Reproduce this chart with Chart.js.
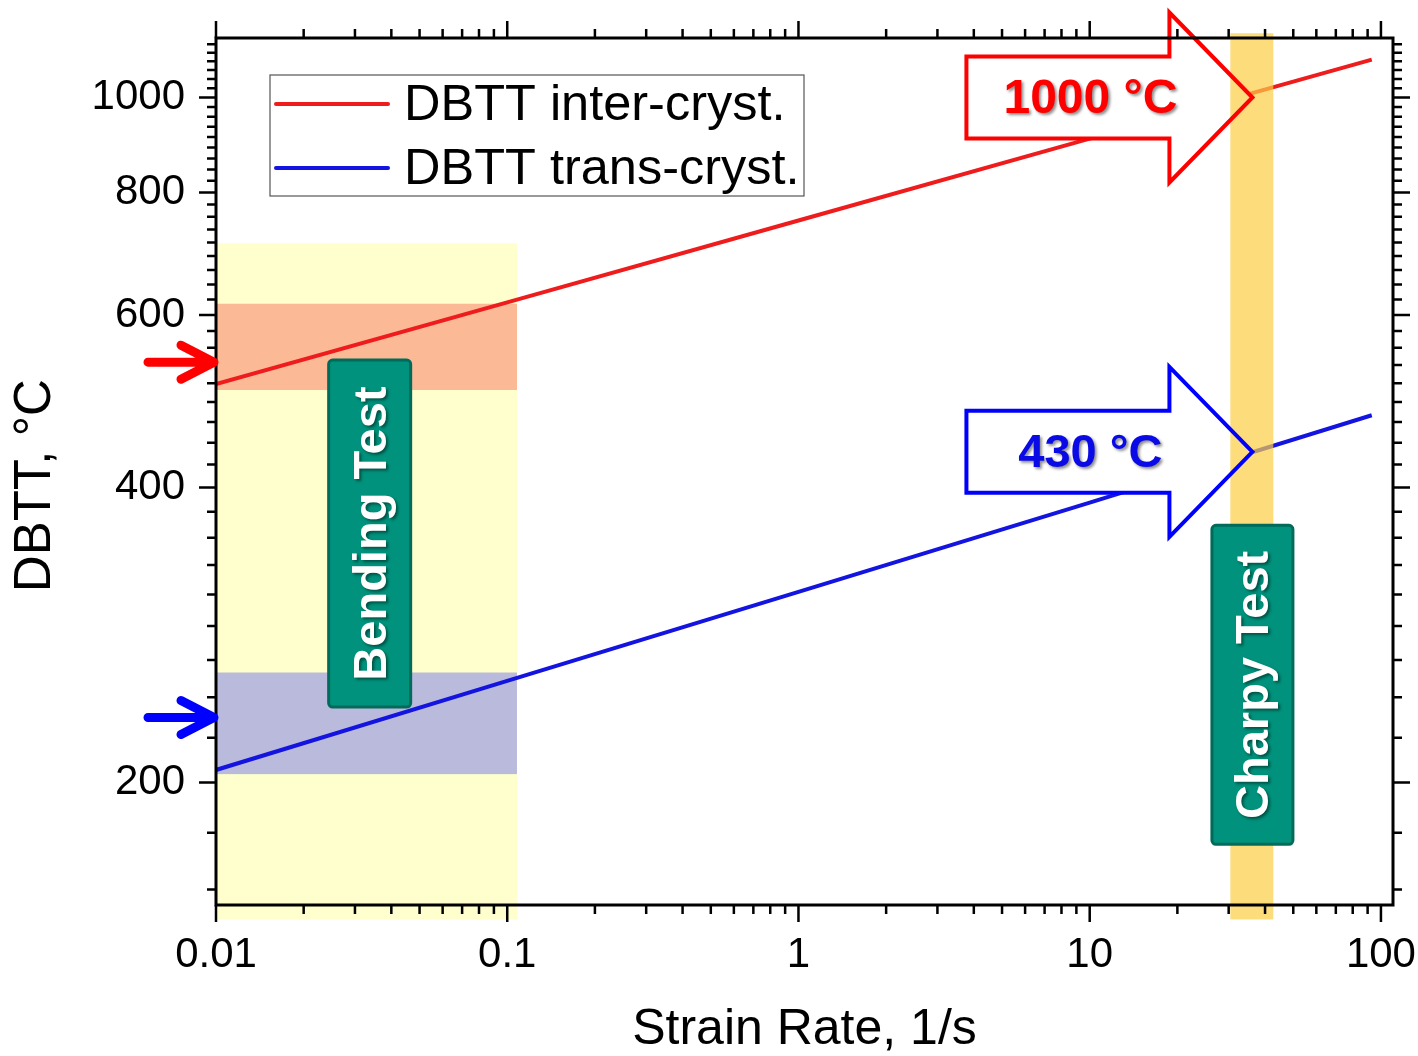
<!DOCTYPE html>
<html lang="en">
<head>
<meta charset="UTF-8" />
<title>DBTT vs Strain Rate</title>
<script src="https://cdn.jsdelivr.net/npm/chart.js"></script>
<style>
  body { margin: 0; background: #fff; }
  .wrap { width: 1418px; height: 1056px; position: relative; }
</style>
</head>
<body>
<div class="wrap"><canvas id="dbttChart"></canvas></div>
<script>
  // series (log-log straight lines)
  const strainRate = [0.01, 0.1, 1, 10, 93];
  const dbttInter = [510, 618, 749, 908, 1093];
  const dbttTrans = [206, 254, 313, 386, 474];
  const seriesLabels = ['DBTT inter-cryst.', 'DBTT trans-cryst.'];
  const seriesColors = ['#ee1c1c', '#1414e0'];

  const xTicks = [0.01, 0.1, 1, 10, 100];
  const yTicks = [200, 400, 600, 800, 1000];

  // test windows
  const bendingRate = [0.01, 0.108];
  const bendingTemp = [145, 710];
  const bendingInterBand = [503, 616];
  const bendingTransBand = [204, 259];
  const bendingMarks = [537, 233];
  const charpyRate = [30.4, 42.7];
  const charpyTemp = [145, 1163];
  const charpyPoint = 36.2;
  const charpyTemps = [1000, 435];
  const charpyLabels = ['1000 °C', '430 °C'];

  const FONT = '"Liberation Sans", Arial, sans-serif';

  function fillBand(ctx, x0, x1, yTop, yBot, color) {
    ctx.fillStyle = color;
    ctx.fillRect(x0, yTop, x1 - x0, yBot - yTop);
  }

  function arrowPath(ctx, tipX, tipY) {
    const headLen = 83, headHalf = 85, bodyHalf = 41, totalLen = 286;
    ctx.beginPath();
    ctx.moveTo(tipX, tipY);
    ctx.lineTo(tipX - headLen, tipY - headHalf);
    ctx.lineTo(tipX - headLen, tipY - bodyHalf);
    ctx.lineTo(tipX - totalLen, tipY - bodyHalf);
    ctx.lineTo(tipX - totalLen, tipY + bodyHalf);
    ctx.lineTo(tipX - headLen, tipY + bodyHalf);
    ctx.lineTo(tipX - headLen, tipY + headHalf);
    ctx.closePath();
  }

  function shadowOn(ctx) {
    ctx.shadowColor = 'rgba(0,0,0,0.45)';
    ctx.shadowOffsetX = 2;
    ctx.shadowOffsetY = 2;
    ctx.shadowBlur = 3;
  }

  function tealBox(ctx, cx, cy, w, h, text) {
    ctx.save();
    ctx.fillStyle = '#00927c';
    ctx.strokeStyle = '#006b5a';
    ctx.lineWidth = 3;
    ctx.beginPath();
    if (ctx.roundRect) ctx.roundRect(cx - w / 2, cy - h / 2, w, h, 4);
    else ctx.rect(cx - w / 2, cy - h / 2, w, h);
    ctx.fill();
    ctx.stroke();
    ctx.translate(cx, cy);
    ctx.rotate(-Math.PI / 2);
    ctx.font = 'bold 47px ' + FONT;
    ctx.fillStyle = '#fff';
    ctx.textAlign = 'center';
    ctx.textBaseline = 'middle';
    shadowOn(ctx);
    ctx.fillText(text, 0, 3);
    ctx.restore();
  }

  function drawFrame(chart) {
    const { ctx, chartArea: a, scales: { x, y } } = chart;
    ctx.save();
    ctx.strokeStyle = '#000';
    ctx.lineWidth = 3;
    ctx.strokeRect(a.left, a.top, a.right - a.left, a.bottom - a.top);
    ctx.lineWidth = 2.5;
    ctx.beginPath();
    const majorLen = 17, minorLen = 9;
    // x ticks, bottom and top, pointing out
    xTicks.forEach(m => {
      for (let k = 1; k < 10; k++) {
        const v = m * k;
        if (v < x.min - 1e-9 || v > x.max) continue;
        const px = x.getPixelForValue(v);
        const len = k === 1 ? majorLen : minorLen;
        ctx.moveTo(px, a.bottom); ctx.lineTo(px, a.bottom + len);
        ctx.moveTo(px, a.top); ctx.lineTo(px, a.top - len);
      }
    });
    // y ticks, left and right, 8 minors between majors
    const step = (yTicks[1] - yTicks[0]) / 9;
    const yMarks = [];
    yTicks.forEach(m => yMarks.push([m, majorLen]));
    for (let v = yTicks[0] + step; v <= y.max + 1e-6; v += step) {
      if (yTicks.some(m => Math.abs(m - v) < 1e-6)) continue;
      yMarks.push([v, minorLen]);
    }
    for (let v = yTicks[0] - step; v >= y.min; v -= step) yMarks.push([v, minorLen]);
    yMarks.forEach(([v, len]) => {
      const py = y.getPixelForValue(v);
      ctx.moveTo(a.left, py); ctx.lineTo(a.left - len, py);
      ctx.moveTo(a.right, py); ctx.lineTo(a.right + len, py);
    });
    ctx.stroke();
    ctx.restore();
  }

  function drawLegend(chart) {
    const { ctx, chartArea: a } = chart;
    const bx = a.left + 54, by = a.top + 37, bw = 534, bh = 121;
    ctx.save();
    ctx.fillStyle = '#fff';
    ctx.fillRect(bx, by, bw, bh);
    ctx.strokeStyle = '#555';
    ctx.lineWidth = 1.2;
    ctx.strokeRect(bx, by, bw, bh);
    ctx.font = '50.5px ' + FONT;
    ctx.textBaseline = 'middle';
    ctx.fillStyle = '#000';
    chart.data.datasets.forEach((ds, i) => {
      const ry = by + 29 + i * 64;
      ctx.strokeStyle = ds.borderColor;
      ctx.lineWidth = 4;
      ctx.lineCap = 'round';
      ctx.beginPath();
      ctx.moveTo(bx + 6, ry);
      ctx.lineTo(bx + 118, ry);
      ctx.stroke();
      ctx.fillText(ds.label, bx + 134, ry + 2);
    });
    ctx.restore();
  }

  const decorPlugin = {
    id: 'decor',
    beforeDatasetsDraw(chart) {
      const { ctx, scales: { x, y } } = chart;
      const xl = x.getPixelForValue(bendingRate[0]);
      const xr = x.getPixelForValue(bendingRate[1]);
      ctx.save();
      fillBand(ctx, xl, xr, y.getPixelForValue(bendingTemp[1]), y.getPixelForValue(bendingTemp[0]), '#ffffcd');
      fillBand(ctx, xl, xr, y.getPixelForValue(bendingInterBand[1]), y.getPixelForValue(bendingInterBand[0]), '#fbb996');
      fillBand(ctx, xl, xr, y.getPixelForValue(bendingTransBand[1]), y.getPixelForValue(bendingTransBand[0]), '#babadc');
      ctx.restore();
    },
    afterDatasetsDraw(chart) {
      const { ctx, chartArea: a, scales: { x, y } } = chart;
      const tipX = x.getPixelForValue(charpyPoint);
      const tips = charpyTemps.map(t => y.getPixelForValue(t));
      const arrowColors = ['#ff0000', '#0000ff'];
      const textColors = ['#ff0000', '#0a0ae6'];
      ctx.save();
      tips.forEach(ty => { arrowPath(ctx, tipX, ty); ctx.fillStyle = '#fff'; ctx.fill(); });
      fillBand(ctx, x.getPixelForValue(charpyRate[0]), x.getPixelForValue(charpyRate[1]),
        y.getPixelForValue(charpyTemp[1]), y.getPixelForValue(charpyTemp[0]), 'rgba(252,205,69,0.7)');
      tips.forEach((ty, i) => {
        arrowPath(ctx, tipX, ty);
        ctx.strokeStyle = arrowColors[i];
        ctx.lineWidth = 4;
        ctx.lineJoin = 'miter';
        ctx.stroke();
      });
      ctx.restore();

      drawFrame(chart);

      ctx.save();
      ctx.textAlign = 'center';
      ctx.textBaseline = 'middle';
      shadowOn(ctx);
      tips.forEach((ty, i) => {
        ctx.font = 'bold ' + (i === 0 ? 48 : 47) + 'px ' + FONT;
        ctx.fillStyle = textColors[i];
        ctx.fillText(charpyLabels[i], tipX - 162, ty + 2);
      });
      ctx.restore();

      // small arrows pointing at the bending-test temperatures
      ctx.save();
      ctx.lineWidth = 9;
      ctx.lineCap = 'round';
      ctx.lineJoin = 'round';
      bendingMarks.forEach((t, i) => {
        const py = y.getPixelForValue(t);
        const tx = a.left - 2;
        ctx.strokeStyle = arrowColors[i];
        ctx.beginPath();
        ctx.moveTo(a.left - 68, py);
        ctx.lineTo(tx - 4, py);
        ctx.moveTo(tx - 33, py - 17);
        ctx.lineTo(tx, py);
        ctx.lineTo(tx - 33, py + 17);
        ctx.stroke();
      });
      ctx.restore();

      tealBox(ctx, x.getPixelForValue(0.0337), y.getPixelForValue(359), 82, 347, 'Bending Test');
      tealBox(ctx, tipX, y.getPixelForValue(251.6), 81, 319, 'Charpy Test');

      drawLegend(chart);
    }
  };

  const toPoints = ys => strainRate.map((v, i) => ({ x: v, y: ys[i] }));

  new Chart(document.getElementById('dbttChart'), {
    type: 'line',
    data: {
      datasets: [
        { label: seriesLabels[0], data: toPoints(dbttInter), borderColor: seriesColors[0], borderWidth: 4, pointRadius: 0, tension: 0 },
        { label: seriesLabels[1], data: toPoints(dbttTrans), borderColor: seriesColors[1], borderWidth: 4, pointRadius: 0, tension: 0 }
      ]
    },
    options: {
      responsive: true,
      maintainAspectRatio: false,
      animation: false,
      layout: { padding: { top: 38, right: 25, left: 0, bottom: 0 } },
      plugins: { legend: { display: false }, tooltip: { enabled: false } },
      scales: {
        x: {
          type: 'logarithmic',
          min: 0.01,
          max: 110,
          afterBuildTicks: s => { s.ticks = xTicks.map(v => ({ value: v })); },
          afterFit: s => { s.height = 151; s.paddingLeft = 0; s.paddingRight = 0; },
          grid: { drawOnChartArea: false, color: 'transparent', tickLength: 17 },
          border: { display: false },
          ticks: {
            color: '#000', padding: 8, maxRotation: 0, autoSkip: false,
            font: { family: FONT, size: 42 },
            callback: v => String(v)
          },
          title: {
            display: true, text: 'Strain Rate, 1/s', color: '#000',
            font: { family: FONT, size: 50, lineHeight: 1 },
            padding: { top: 0, bottom: 1 }
          }
        },
        y: {
          type: 'logarithmic',
          min: 150,
          max: 1150,
          afterBuildTicks: s => { s.ticks = yTicks.map(v => ({ value: v })); },
          afterFit: s => { s.width = 216; s.paddingTop = 0; s.paddingBottom = 0; },
          grid: { drawOnChartArea: false, color: 'transparent', tickLength: 17 },
          border: { display: false },
          ticks: {
            color: '#000', padding: 14, autoSkip: false,
            font: { family: FONT, size: 42 },
            callback: v => String(v)
          },
          title: {
            display: true, text: 'DBTT, °C  ', color: '#000',
            font: { family: FONT, size: 51, lineHeight: 1 },
            padding: { top: 10, bottom: 0 }
          }
        }
      }
    },
    plugins: [decorPlugin]
  });
</script>
</body>
</html>
